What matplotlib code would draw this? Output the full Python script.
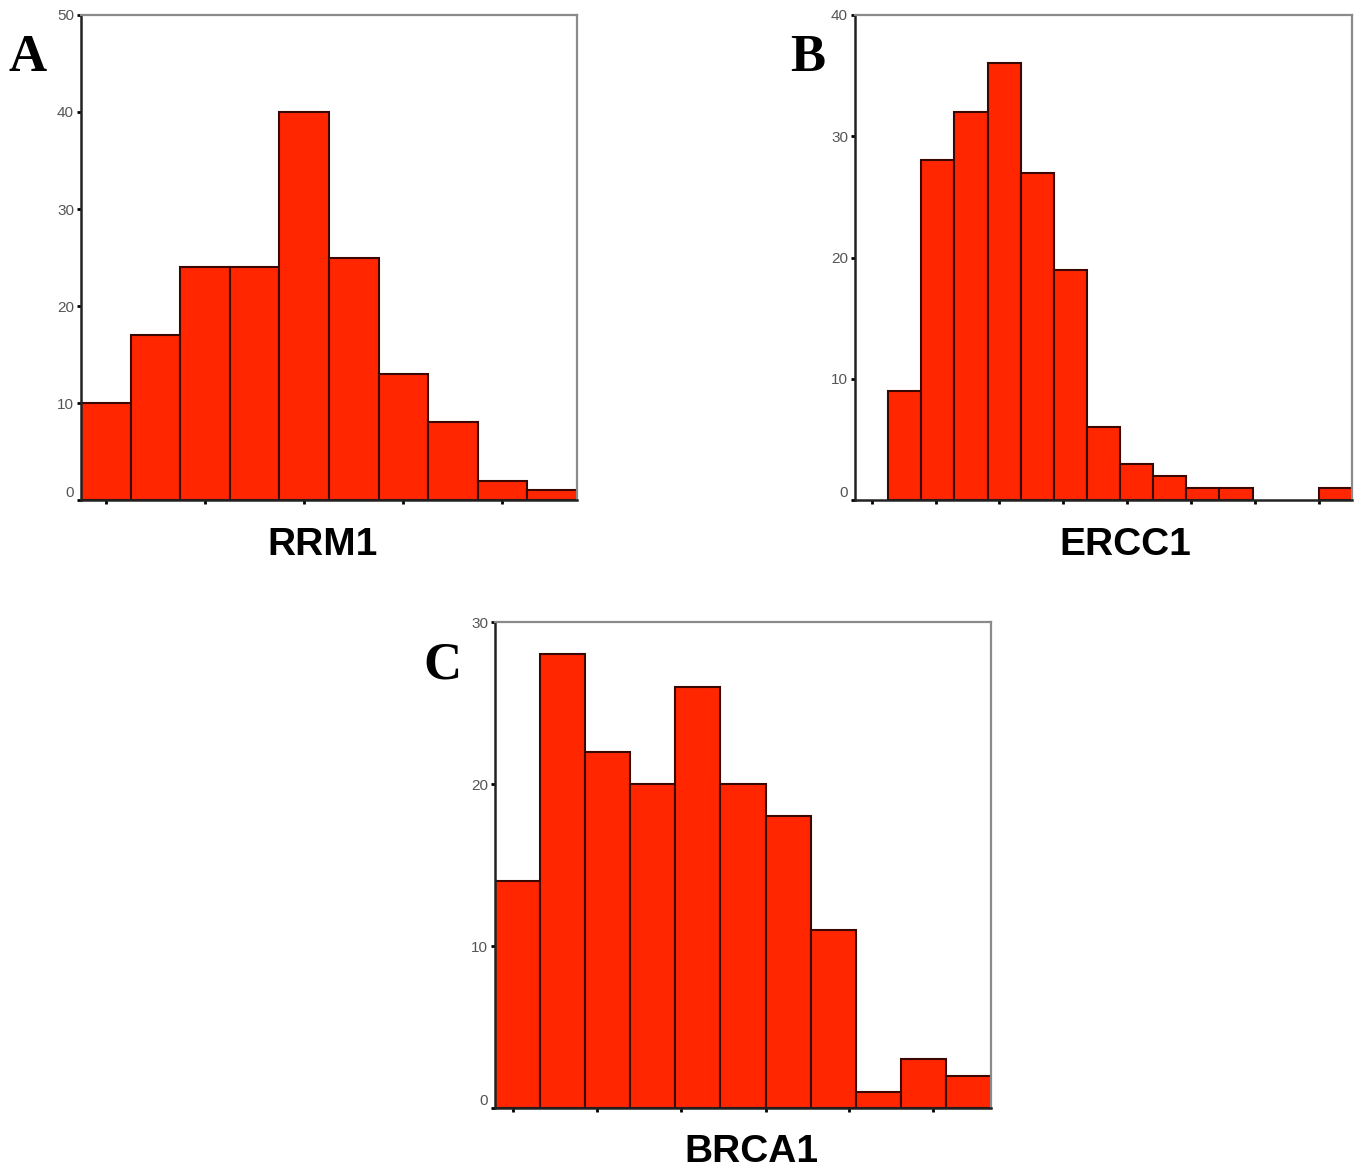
import matplotlib
matplotlib.use("Agg")
import matplotlib.pyplot as plt

# bin counts
rrm1_counts = [10, 17, 24, 24, 40, 25, 13, 8, 2, 1]
ercc1_counts = [0, 9, 28, 32, 36, 27, 19, 6, 3, 2, 1, 1, 0, 0, 1]
brca1_counts = [14, 28, 22, 20, 26, 20, 18, 11, 1, 3, 2]

rrm1_yticks = [0, 10, 20, 30, 40, 50]
ercc1_yticks = [0, 10, 20, 30, 40]
brca1_yticks = [0, 10, 20, 30]

# x tick positions in bin units
rrm1_xticks = [0.5, 2.5, 4.5, 6.5, 8.5]
ercc1_xticks = [0.5, 2.43, 4.36, 6.29, 8.22, 10.15, 12.08, 14.0]
brca1_xticks = [0.4, 2.27, 4.13, 6.0, 7.86, 9.72]

BAR = "#ff2600"
EDGE = "#3a0800"

fig = plt.figure(figsize=(13.58, 11.71), dpi=100)


def panel(rect, counts, yticks, xticks, label, lx, ly, letter, tx, ty):
    ax = fig.add_axes(rect)
    x = list(range(len(counts)))
    lw = [1.5 if c > 0 else 0 for c in counts]
    ax.bar(x, counts, width=1.0, align="edge", color=BAR, edgecolor=EDGE, linewidth=lw)
    ax.set_xlim(0, len(counts))
    ax.set_ylim(0, yticks[-1])
    ax.set_yticks(yticks)
    ax.set_yticklabels([str(v) for v in yticks], fontsize=11, color="#555555",
                       family="Liberation Sans")
    ax.get_yticklabels()[0].set_va("bottom")
    ax.set_xticks(xticks)
    ax.set_xticklabels([])
    ax.tick_params(axis="both", direction="out", length=3, width=2, color="black", pad=2)
    for s in ("left", "bottom"):
        ax.spines[s].set_color("#222222")
        ax.spines[s].set_linewidth(1.8)
    for s in ("top", "right"):
        ax.spines[s].set_color("#8a8a8a")
        ax.spines[s].set_linewidth(1.6)
    fig.text(lx, ly, label, ha="center", va="center", fontsize=28,
             fontweight="bold", family="Liberation Sans")
    fig.text(tx, ty, letter, ha="center", va="center", fontsize=38,
             fontweight="bold", family="Liberation Serif")
    return ax


panel([0.0596, 0.5730, 0.3652, 0.4142], rrm1_counts, rrm1_yticks, rrm1_xticks,
      "RRM1", 0.2378, 0.5346, "A", 0.0206, 0.9505)
panel([0.6296, 0.5730, 0.3660, 0.4142], ercc1_counts, ercc1_yticks, ercc1_xticks,
      "ERCC1", 0.829, 0.5346, "B", 0.595, 0.9505)
panel([0.3645, 0.0538, 0.3652, 0.4150], brca1_counts, brca1_yticks, brca1_xticks,
      "BRCA1", 0.553, 0.0162, "C", 0.326, 0.432)

fig.savefig("out.png", dpi=100)
